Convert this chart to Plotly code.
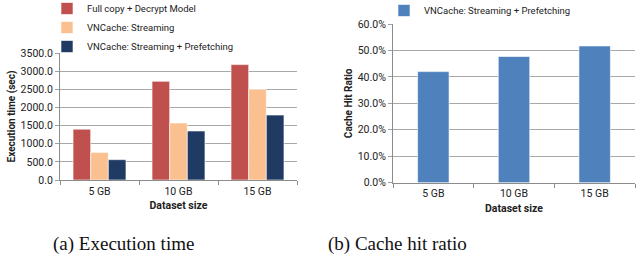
import plotly.graph_objects as go

categories = ["5 GB", "10 GB", "15 GB"]
full_copy = [1400, 2720, 3180]
streaming = [760, 1570, 2500]
stream_prefetch = [560, 1350, 1790]
hit_ratio = [0.42, 0.477, 0.517]

names = ["Full copy + Decrypt Model", "VNCache: Streaming", "VNCache: Streaming + Prefetching"]
colors = ["#C0504D", "#FAC090", "#1F3B63"]

FONT = "Roboto, sans-serif"
W, H = 643, 266

fig = go.Figure()
for vals, nm, c in zip([full_copy, streaming, stream_prefetch], names, colors):
    fig.add_trace(go.Bar(x=categories, y=vals, name=nm, marker=dict(color=c, line=dict(color="white", width=0.6)),
                         xaxis="x", yaxis="y", legend="legend"))
fig.add_trace(go.Bar(x=categories, y=hit_ratio, name="VNCache: Streaming + Prefetching",
                     marker=dict(color="#4F81BD", line=dict(color="white", width=0.6)), width=0.39,
                     xaxis="x2", yaxis="y2", legend="legend2"))

axcommon = dict(showline=True, linecolor="#8C8C8C", linewidth=1, tickfont=dict(size=10.5, color="#222"),
                zeroline=False, automargin=False)

def px_x(p):
    return p / W

def px_y(p):
    return (H - p) / H

xcommon = dict(ticks="outside", tickson="boundaries", ticklen=4, tickcolor="#8C8C8C", ticklabelstandoff=1)
ycommon = dict(ticks="outside", ticklen=4, tickcolor="#A0A0A0", showgrid=True, gridcolor="#A8A8A8")

fig.update_layout(
    width=W, height=H, margin=dict(l=0, r=0, t=0, b=0, autoexpand=False),
    paper_bgcolor="white", plot_bgcolor="white",
    font=dict(family=FONT, size=10, color="#222"),
    barmode="group", bargap=0.33, bargroupgap=0,
    xaxis=dict(domain=[px_x(60), px_x(297)], anchor="y",
               title=dict(text="<b>Dataset size</b>", font=dict(size=10.5), standoff=5), **xcommon, **axcommon),
    yaxis=dict(domain=[px_y(180), px_y(53)], anchor="x", range=[0, 3500], dtick=500, tickformat=".1f",
               title=dict(text="<b>Execution time (sec)</b>", font=dict(size=10), standoff=3), **ycommon, **axcommon),
    xaxis2=dict(domain=[px_x(393), px_x(635)], anchor="y2",
                title=dict(text="<b>Dataset size</b>", font=dict(size=10.5), standoff=5), **xcommon, **axcommon),
    yaxis2=dict(domain=[px_y(182.7), px_y(24)], anchor="x2", range=[0, 0.6], dtick=0.1, tickformat=".1%",
                title=dict(text="<b>Cache Hit Ratio</b>", font=dict(size=10), standoff=3), **ycommon, **axcommon),
    legend=dict(x=px_x(47), y=px_y(-6), xanchor="left", yanchor="top", orientation="v",
                font=dict(size=9.5), tracegroupgap=0, itemwidth=30, bgcolor="rgba(0,0,0,0)"),
    legend2=dict(x=px_x(384), y=px_y(-4), xanchor="left", yanchor="top", orientation="h",
                 font=dict(size=9.5), itemwidth=30, bgcolor="rgba(0,0,0,0)"),
    showlegend=True,
)

serif = dict(family="Liberation Serif, Times New Roman, serif", size=19, color="#111")
fig.add_annotation(text="(a) Execution time", x=px_x(123.5), y=px_y(244), xref="paper", yref="paper",
                   xanchor="center", yanchor="middle", showarrow=False, font=serif)
fig.add_annotation(text="(b) Cache hit ratio", x=px_x(397.5), y=px_y(244), xref="paper", yref="paper",
                   xanchor="center", yanchor="middle", showarrow=False, font=serif)

fig.write_html("out.html", config={"displayModeBar": False},
               post_script="document.body.style.margin='0';")
